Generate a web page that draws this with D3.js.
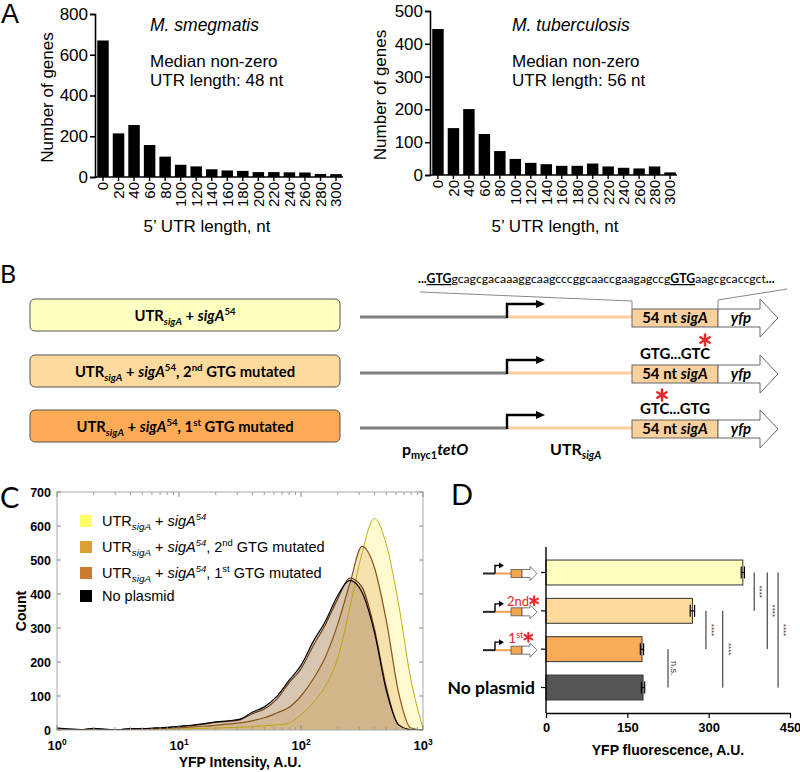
<!DOCTYPE html>
<html><head><meta charset="utf-8">
<script src="https://cdn.jsdelivr.net/npm/d3@7"></script>
<style>body{margin:0;background:#fff}svg{display:block}text{white-space:pre}</style>
</head><body>
<svg id="fig" width="800" height="772"></svg>
<script>
// ---------------- DATA ----------------
const utrBins = ["0","20","40","60","80","100","120","140","160","180","200","220","240","260","280","300"];
const smegCounts = [670,214,255,157,100,60,52,38,32,30,24,24,23,22,15,14];
const mtbCounts  = [445,143,201,125,73,49,37,33,28,28,35,26,22,20,26,8];
const smegTicks = [0,200,400,600,800];
const mtbTicks  = [0,100,200,300,400,500];

const flowLogX      = [0.0,0.1,0.2,0.3,0.4,0.5,0.6,0.7,0.8,0.9,1.0,1.1,1.2,1.3,1.4,1.5,1.6,1.7,1.8,1.9,2.0,2.1,2.2,2.3,2.4,2.5,2.6,2.7,2.8,2.9,3.0];
const flowNoPlasmid = [6,3,1,5,2,1,4,4,6,8,11,14,18,24,27,32,52,68,98,145,190,260,320,395,440,405,290,115,15,1,0];
const flowGtg1      = [5,2,1,4,2,1,3,4,5,7,10,13,17,22,25,30,48,62,90,138,180,248,310,385,447,420,300,125,15,1,0];
const flowGtg2      = [4,2,1,3,1,1,2,3,4,5,7,9,11,14,17,21,27,36,50,66,100,150,215,310,430,540,480,320,110,6,0];
const flowSigA54    = [3,1,0,2,1,0,1,2,2,3,3,4,5,6,7,8,10,12,15,20,45,80,130,210,360,520,622,545,370,150,5];
const flowYTicks = [0,100,200,300,400,500,600,700];
const flowXTicks = [1,10,100,1000];

const yfpGroups = ["sigA54","gtg2","gtg1","none"];
const yfpMeans  = [363,270,177,179];
const yfpErr    = [3,4,3,3];
const yfpTicks  = [0,150,300,450];
// [from, to, label, bracket position in A.U.]
const sigPairs = [[0,1,"****",384],[0,2,"****",408],[0,3,"****",428],[1,2,"****",295],[1,3,"****",326],[2,3,"n.s.",225]];

// ---------------- HELPERS ----------------
const svg = d3.select("#fig");
const ARIAL = "Liberation Sans, Arial, sans-serif";
const CAL = "Lato, Carlito, sans-serif";
const RED = "#e8262a";

function rich(g, x, y, parts, o) {
  const size = o.size;
  const t = g.append("text").attr("x", x).attr("y", y)
    .attr("font-size", size).attr("font-family", o.family || ARIAL)
    .attr("font-weight", o.weight || "normal").attr("text-anchor", o.anchor || "start")
    .attr("fill", o.fill || "#000");
  if (o.rotate) t.attr("transform", `rotate(${o.rotate},${x},${y})`);
  let cur = 0;
  parts.forEach(p => {
    const txt = typeof p === "string" ? p : p[0];
    const st = typeof p === "string" ? [] : (p[1] || "").split(" ");
    let off = 0, fs = size;
    if (st.includes("sub")) { off = size * 0.28; fs = size * 0.68; }
    if (st.includes("sup")) { off = -size * 0.38; fs = size * 0.65; }
    const ts = t.append("tspan").text(txt).attr("font-size", fs);
    if (off - cur !== 0) ts.attr("dy", off - cur);
    cur = off;
    if (st.includes("i")) ts.attr("font-style", "italic");
    if (st.includes("b")) ts.attr("font-weight", "bold");
    if (st.includes("n")) ts.attr("font-weight", "normal");
    if (st.includes("u")) ts.attr("text-decoration", "underline");
  });
  return t;
}
// red asterisk drawn as three strokes
function star(g, x, y, r, w) {
  [90, 30, 150].forEach(a => {
    const rad = a * Math.PI / 180, dx = Math.cos(rad) * r, dy = Math.sin(rad) * r;
    g.append("line").attr("x1", x - dx).attr("y1", y - dy).attr("x2", x + dx).attr("y2", y + dy)
      .attr("stroke", RED).attr("stroke-width", w).attr("stroke-linecap", "round");
  });
}

// ---------------- PANEL A ----------------
function drawHist(o) {
  const g = svg.append("g");
  const x = d3.scaleBand().domain(utrBins).range([o.x0 + 1, o.x1]).paddingInner(0.26).paddingOuter(0.08);
  const y = d3.scaleLinear().domain([0, o.max]).range([o.yBot, o.yTop]);
  g.selectAll("rect.bar").data(o.counts).join("rect")
    .attr("x", (d, i) => x(utrBins[i])).attr("width", x.bandwidth())
    .attr("y", d => y(d)).attr("height", d => y(0) - y(d)).attr("fill", "#000");
  const ya = g.append("g").attr("transform", `translate(${o.x0},0)`)
    .call(d3.axisLeft(y).tickValues(o.ticks).tickSize(5).tickPadding(2).tickFormat(d3.format("d")));
  ya.select(".domain").attr("stroke-width", 1.6);
  ya.selectAll(".tick line").attr("stroke-width", 1.6);
  ya.selectAll("text").attr("font-size", 17).attr("font-family", ARIAL);
  const xa = g.append("g").attr("transform", `translate(0,${o.yBot})`)
    .call(d3.axisBottom(x).tickSize(4).tickSizeOuter(0));
  xa.select(".domain").attr("d", `M${o.x0},0H${o.x1}`).attr("stroke-width", 1.6);
  xa.selectAll(".tick line").attr("stroke-width", 1.4);
  xa.selectAll("text").attr("font-size", 15).attr("font-family", ARIAL)
    .attr("text-anchor", "end").attr("transform", "rotate(-90)")
    .attr("x", -5).attr("y", 0).attr("dy", "0.36em");
  g.append("text").attr("transform", `translate(${o.ylabX},${(o.yTop + o.yBot) / 2 + 2}) rotate(-90)`)
    .attr("text-anchor", "middle").attr("dy", "0.35em").attr("font-size", 17).attr("font-family", ARIAL)
    .text("Number of genes");
  g.append("text").attr("x", o.xlabX).attr("y", 232).attr("text-anchor", "middle")
    .attr("font-size", 17).attr("font-family", ARIAL).text("5\u2019 UTR length, nt");
  g.append("text").attr("x", o.tx).attr("y", 31).attr("font-size", 17.5).attr("font-style", "italic")
    .attr("font-family", ARIAL).text(o.title);
  g.append("text").attr("x", o.tx).attr("y", 67).attr("font-size", 17).attr("font-family", ARIAL).text("Median non-zero");
  g.append("text").attr("x", o.tx).attr("y", 86).attr("font-size", 17).attr("font-family", ARIAL).text(o.median);
}
drawHist({x0: 95, x1: 343, yTop: 14, yBot: 177, max: 800, ticks: smegTicks, counts: smegCounts,
  ylabX: 47, xlabX: 207, tx: 150, title: "M. smegmatis", median: "UTR length: 48 nt"});
drawHist({x0: 430, x1: 677, yTop: 11, yBot: 175, max: 500, ticks: mtbTicks, counts: mtbCounts,
  ylabX: 380, xlabX: 555, tx: 512, title: "M. tuberculosis", median: "UTR length: 56 nt"});
svg.append("text").attr("x", 1).attr("y", 23).attr("font-size", 27).attr("font-family", ARIAL).text("A");

// ---------------- PANEL B ----------------
const gB = svg.append("g");
gB.append("text").attr("x", 0).attr("y", 283).attr("font-size", 25).attr("font-family", CAL).text("B");
const constructs = [
  {ly: 317, fill: "#FFFFC2", parts: [["UTR"],["sigA","sub i"],[" + "],["sigA","i"],["54","sup"]], mut: null},
  {ly: 373, fill: "#FFDA9E", parts: [["UTR"],["sigA","sub i"],[" + "],["sigA","i"],["54","sup"],[", 2"],["nd","sup"],[" GTG mutated"]], mut: "GTG...GTC", star: 705},
  {ly: 428, fill: "#FFAA55", parts: [["UTR"],["sigA","sub i"],[" + "],["sigA","i"],["54","sup"],[", 1"],["st","sup"],[" GTG mutated"]], mut: "GTC...GTG", star: 662}
];
constructs.forEach(c => {
  const ly = c.ly;
  gB.append("rect").attr("x", 30).attr("y", ly - 18).attr("width", 310).attr("height", 32).attr("rx", 5)
    .attr("fill", c.fill).attr("stroke", "#555").attr("stroke-width", 1);
  rich(gB, 185, ly + 4, c.parts, {size: 14.8, family: CAL, weight: "bold", anchor: "middle"});
  gB.append("line").attr("x1", 360).attr("x2", 507).attr("y1", ly).attr("y2", ly).attr("stroke", "#808080").attr("stroke-width", 3);
  gB.append("line").attr("x1", 507).attr("x2", 632).attr("y1", ly).attr("y2", ly).attr("stroke", "#F9CD9C").attr("stroke-width", 3);
  gB.append("path").attr("d", `M507,${ly + 1}V${ly - 13}H537`).attr("fill", "none").attr("stroke", "#000").attr("stroke-width", 2.4);
  gB.append("path").attr("d", `M536,${ly - 17}L545,${ly - 13}L536,${ly - 9}Z`).attr("fill", "#000");
  gB.append("rect").attr("x", 632).attr("y", ly - 8).attr("width", 86).attr("height", 18)
    .attr("fill", "#FAD19C").attr("stroke", "#666").attr("stroke-width", 1);
  rich(gB, 675, ly + 6, [["54 nt "], ["sigA", "i"]], {size: 15, family: CAL, weight: "bold", anchor: "middle"});
  gB.append("path").attr("d", `M718,${ly - 8}H760V${ly - 18}L778,${ly + 1}L760,${ly + 20}V${ly + 10}H718Z`)
    .attr("fill", "#fff").attr("stroke", "#666").attr("stroke-width", 1);
  rich(gB, 741, ly + 6, [["yfp", "i"]], {size: 15, family: CAL, weight: "bold", anchor: "middle"});
  if (c.mut) {
    gB.append("text").attr("x", 675).attr("y", ly - 14).attr("text-anchor", "middle").attr("font-size", 15)
      .attr("font-weight", "bold").attr("font-family", CAL).text(c.mut);
    star(gB, c.star, ly - 33, 5.5, 2.4);
  }
});
// sequence line, font size fitted to span the reference width
const seq = rich(gB, 418, 283, [["..."],["GTG","u"],["gcagcgacaaaggcaagcccggcaaccgaagagccg","n"],["GTG","u"],["aagcgcaccgct","n"],["..."]],
  {size: 13, family: CAL, weight: "bold"});
const seqW = seq.node().getComputedTextLength();
const seqFs = 13 * 357 / seqW;
seq.attr("font-size", seqFs).selectAll("tspan").attr("font-size", seqFs);
gB.append("path").attr("d", "M420,292L632,301V309").attr("fill", "none").attr("stroke", "#888").attr("stroke-width", 1);
gB.append("path").attr("d", "M787,289L718,300V309").attr("fill", "none").attr("stroke", "#888").attr("stroke-width", 1);
rich(gB, 402, 455, [["p"],["myc1","sub"],["tetO","i"]], {size: 16, family: CAL, weight: "bold"});
rich(gB, 550, 455, [["UTR"],["sigA","sub i"]], {size: 16, family: CAL, weight: "bold"});

// ---------------- PANEL C ----------------
const gC = svg.append("g");
gC.append("text").attr("x", 0).attr("y", 508).attr("font-size", 29).attr("font-family", CAL).text("C");
const cx = d3.scaleLog().domain([1, 1000]).range([57, 423]);
const cy = d3.scaleLinear().domain([0, 700]).range([730, 492]);
gC.append("clipPath").attr("id", "clipC").append("rect").attr("x", 57).attr("y", 492).attr("width", 366).attr("height", 238);
const series = [
  {vals: flowSigA54, fill: "#FFF7B0", op: 0.6, stroke: "#B8A400", sw: 0.9},
  {vals: flowGtg2, fill: "#E8C27C", op: 0.42, stroke: "#8A5418", sw: 1.2},
  {vals: flowGtg1, fill: "#C8935A", op: 0.4, stroke: "#6B3A10", sw: 1.2},
  {vals: flowNoPlasmid, fill: "#7a7a7a", op: 0.16, stroke: "#000", sw: 1.2}
];
const area = d3.area().curve(d3.curveMonotoneX).x((d, i) => cx(Math.pow(10, flowLogX[i]))).y0(cy(0)).y1(d => cy(d));
const line = d3.line().curve(d3.curveMonotoneX).x((d, i) => cx(Math.pow(10, flowLogX[i]))).y(d => cy(d));
const plot = gC.append("g").attr("clip-path", "url(#clipC)");
series.forEach(s => {
  plot.append("path").datum(s.vals).attr("d", area).attr("fill", s.fill).attr("fill-opacity", s.op);
});
series.forEach(s => {
  plot.append("path").datum(s.vals).attr("d", line).attr("fill", "none").attr("stroke", s.stroke).attr("stroke-width", s.sw);
});
// frame
gC.append("rect").attr("x", 57).attr("y", 492).attr("width", 366).attr("height", 238)
  .attr("fill", "none").attr("stroke", "#aaa").attr("stroke-width", 1);
// y ticks
flowYTicks.forEach(t => {
  gC.append("line").attr("x1", 57).attr("x2", 61).attr("y1", cy(t)).attr("y2", cy(t)).attr("stroke", "#888");
  gC.append("line").attr("x1", 419).attr("x2", 423).attr("y1", cy(t)).attr("y2", cy(t)).attr("stroke", "#888");
  gC.append("text").attr("x", 51).attr("y", cy(t) + 4.5).attr("text-anchor", "end").attr("font-size", 12.5)
    .attr("font-weight", "bold").attr("font-family", ARIAL).text(t);
});
// x ticks
flowXTicks.forEach((t, k) => {
  gC.append("line").attr("x1", cx(t)).attr("x2", cx(t)).attr("y1", 730).attr("y2", 725).attr("stroke", "#888");
  gC.append("line").attr("x1", cx(t)).attr("x2", cx(t)).attr("y1", 492).attr("y2", 497).attr("stroke", "#888");
  rich(gC, cx(t), 750, [["10"], [String(Math.round(Math.log10(t))), "sup"]], {size: 13, weight: "bold", anchor: "middle"});
  if (t < 1000) {
    for (let m = 2; m <= 9; m++) {
      const xv = cx(t * m);
      gC.append("line").attr("x1", xv).attr("x2", xv).attr("y1", 730).attr("y2", 727).attr("stroke", "#999");
      gC.append("line").attr("x1", xv).attr("x2", xv).attr("y1", 492).attr("y2", 495).attr("stroke", "#999");
    }
  }
});
gC.append("text").attr("x", 240).attr("y", 767).attr("text-anchor", "middle").attr("font-size", 14)
  .attr("font-weight", "bold").attr("font-family", ARIAL).text("YFP Intensity, A.U.");
gC.append("text").attr("transform", "translate(21,611) rotate(-90)").attr("text-anchor", "middle").attr("dy", "0.35em")
  .attr("font-size", 14).attr("font-weight", "bold").attr("font-family", ARIAL).text("Count");
// legend
const legend = [
  {c: "#FFFF66", y: 526, parts: [["UTR"],["sigA","sub i"],[" + "],["sigA","i"],["54","sup i"]]},
  {c: "#DAA033", y: 552, parts: [["UTR"],["sigA","sub i"],[" + "],["sigA","i"],["54","sup i"],[", 2"],["nd","sup"],[" GTG mutated"]]},
  {c: "#CC7A2E", y: 578, parts: [["UTR"],["sigA","sub i"],[" + "],["sigA","i"],["54","sup i"],[", 1"],["st","sup"],[" GTG mutated"]]},
  {c: "#000000", y: 601, parts: [["No plasmid"]]}
];
legend.forEach(l => {
  gC.append("rect").attr("x", 80).attr("y", l.y - 11).attr("width", 12).attr("height", 12).attr("fill", l.c);
  rich(gC, 102, l.y, l.parts, {size: 14.5});
});

// ---------------- PANEL D ----------------
const gD = svg.append("g");
gD.append("text").attr("x", 451).attr("y", 505).attr("font-size", 29).attr("font-family", CAL).text("D");
const dx = d3.scaleLinear().domain([0, 450]).range([546, 790]);
const dy = d3.scaleBand().domain(yfpGroups).range([547, 713]).paddingInner(0.35).paddingOuter(0.34);
const barFills = ["#FFFFC2", "#FDD99B", "#F9AB58", "#555555"];
yfpGroups.forEach((gname, i) => {
  const y0 = dy(gname), bh = dy.bandwidth(), cyy = y0 + bh / 2;
  gD.append("rect").attr("x", dx(0)).attr("y", y0).attr("width", dx(yfpMeans[i]) - dx(0)).attr("height", bh)
    .attr("fill", barFills[i]).attr("stroke", "#333").attr("stroke-width", 1);
  const e1 = dx(yfpMeans[i] - yfpErr[i]), e2 = dx(yfpMeans[i] + yfpErr[i]);
  gD.append("line").attr("x1", e1).attr("x2", e2).attr("y1", cyy).attr("y2", cyy).attr("stroke", "#000").attr("stroke-width", 1.2);
  [e1, e2].forEach(e => gD.append("line").attr("x1", e).attr("x2", e).attr("y1", cyy - 6).attr("y2", cyy + 6).attr("stroke", "#000").attr("stroke-width", 1.2));
  gD.append("line").attr("x1", 541).attr("x2", 546).attr("y1", cyy).attr("y2", cyy).attr("stroke", "#000").attr("stroke-width", 1.2);
  if (i < 3) {
    const ly = cyy + 1;
    gD.append("line").attr("x1", 483).attr("x2", 495).attr("y1", ly).attr("y2", ly).attr("stroke", "#222").attr("stroke-width", 2);
    gD.append("line").attr("x1", 495).attr("x2", 511).attr("y1", ly).attr("y2", ly).attr("stroke", "#F0A050").attr("stroke-width", 2);
    gD.append("path").attr("d", `M495,${ly}V${ly - 8}H500`).attr("fill", "none").attr("stroke", "#000").attr("stroke-width", 1.4);
    gD.append("path").attr("d", `M499,${ly - 11}L504,${ly - 8}L499,${ly - 5}Z`).attr("fill", "#000");
    gD.append("rect").attr("x", 511).attr("y", ly - 4).attr("width", 11).attr("height", 8).attr("fill", "#F3A650").attr("stroke", "#555").attr("stroke-width", 0.8);
    gD.append("path").attr("d", `M522,${ly - 4}H530V${ly - 7}L537,${ly}L530,${ly + 7}V${ly + 4}H522Z`)
      .attr("fill", "#fff").attr("stroke", "#555").attr("stroke-width", 0.8);
  }
  if (i === 1) {
    const t2 = rich(gD, 507, cyy - 5, [["2nd"]], {size: 13, fill: RED, family: CAL});
    star(gD, 507 + t2.node().getComputedTextLength() + 5, cyy - 10, 4.5, 2);
  }
  if (i === 2) {
    const t1 = rich(gD, 508, cyy - 6, [["1"], ["st", "sup"]], {size: 14, fill: RED, family: CAL});
    star(gD, 508 + t1.node().getComputedTextLength() + 5, cyy - 12, 4.5, 2);
  }
  if (i === 3) gD.append("text").attr("x", 535).attr("y", cyy + 6).attr("text-anchor", "end").attr("font-size", 17.5)
    .attr("font-weight", "bold").attr("font-family", CAL).text("No plasmid");
});
gD.append("line").attr("x1", 546).attr("x2", 546).attr("y1", 547).attr("y2", 713).attr("stroke", "#000").attr("stroke-width", 1.4);
const dax = gD.append("g").attr("transform", "translate(0,713)")
  .call(d3.axisBottom(dx).tickValues(yfpTicks).tickSize(5).tickSizeOuter(0).tickPadding(5));
dax.select(".domain").attr("stroke-width", 1.4);
dax.selectAll(".tick line").attr("stroke-width", 1.2);
dax.selectAll("text").attr("font-size", 13).attr("font-weight", "bold").attr("font-family", ARIAL);
gD.append("text").attr("x", 668).attr("y", 755).attr("text-anchor", "middle").attr("font-size", 14)
  .attr("font-weight", "bold").attr("font-family", ARIAL).text("YFP fluorescence, A.U.");
sigPairs.forEach(([a, b, lab, pos]) => {
  const ya = dy(yfpGroups[a]) + dy.bandwidth() / 2, yb = dy(yfpGroups[b]) + dy.bandwidth() / 2;
  const xv = dx(pos);
  gD.append("line").attr("x1", xv).attr("x2", xv).attr("y1", ya).attr("y2", yb).attr("stroke", "#222").attr("stroke-width", 1);
  const my = (ya + yb) / 2;
  gD.append("text").attr("transform", `translate(${xv + 3},${my}) rotate(90)`).attr("text-anchor", "middle")
    .attr("font-size", lab === "n.s." ? 9 : 8).attr("font-family", ARIAL).attr("fill", "#333").text(lab);
});
</script>
</body></html>
